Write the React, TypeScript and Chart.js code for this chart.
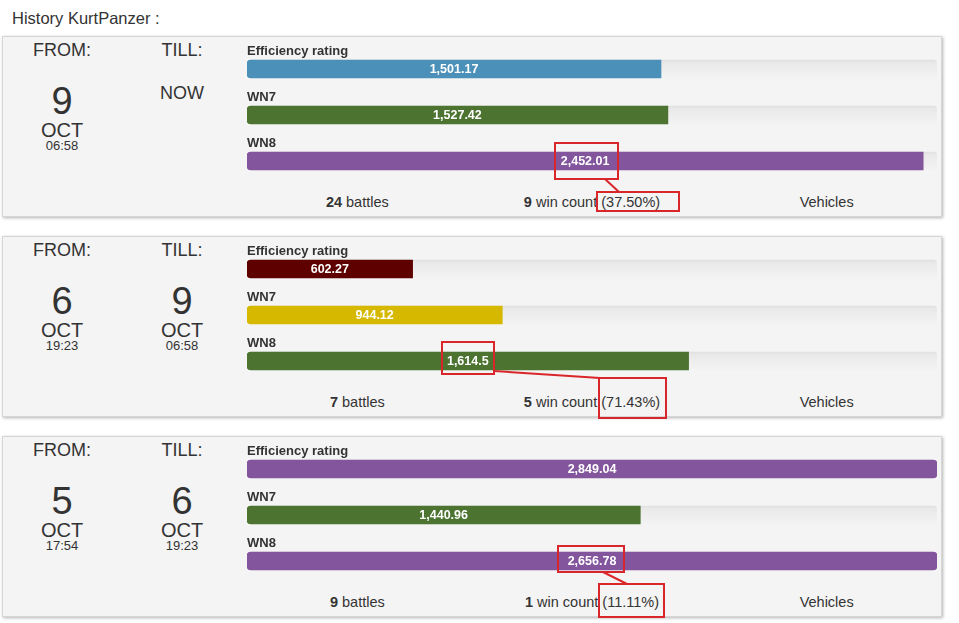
import React, { useEffect, useRef } from 'react';
import { Chart, registerables } from 'chart.js';

Chart.register(...registerables);

// ---------- data ----------
const metricLabels = ['Efficiency rating', 'WN7', 'WN8'];
const efficiencyValues = [1501.17, 602.27, 2849.04];
const wn7Values = [1527.42, 944.12, 1440.96];
const wn8Values = [2452.01, 1614.5, 2656.78];
const scaleMax = 2500;
// the source page fills each bar to a whole percent of scaleMax (rounded down)
const percentStep = scaleMax / 100;

const fromDays = ['9', '6', '5'];
const fromMonths = ['OCT', 'OCT', 'OCT'];
const fromTimes = ['06:58', '19:23', '17:54'];
const tillDays = ['', '9', '6'];
const tillMonths = ['', 'OCT', 'OCT'];
const tillTimes = ['', '06:58', '19:23'];

const battles = [24, 7, 9];
const wins = [9, 5, 1];
const winRates = ['37.50', '71.43', '11.11'];

// ---------- styles ----------
const efficiencyColors = ['#4a90b9', '#5e0000', '#83559c'];
const wn7Colors = ['#4d7331', '#d6b800', '#4d7331'];
const wn8Colors = ['#83559c', '#4d7331', '#83559c'];

const FONT = '"Liberation Sans", Arial, Helvetica, sans-serif';
const PANEL_TOPS = [36, 236, 436];
const RED = '#d9262b';

const fmt = (v: number) =>
  v.toLocaleString('en-US', { minimumFractionDigits: 0, maximumFractionDigits: 2 });

const barLength = (v: number) => Math.min(Math.floor(v / percentStep) * percentStep, scaleMax);

function PanelChart({ idx, top }: { idx: number; top: number }) {
  const ref = useRef<HTMLCanvasElement | null>(null);
  useEffect(() => {
    if (!ref.current) return;
    const values = [efficiencyValues[idx], wn7Values[idx], wn8Values[idx]];
    const colors = [efficiencyColors[idx], wn7Colors[idx], wn8Colors[idx]];
    const labelPlugin = {
      id: 'barLabels',
      afterDatasetsDraw(chart: any) {
        const ctx = chart.ctx;
        const meta = chart.getDatasetMeta(0);
        meta.data.forEach((bar: any, i: number) => {
          ctx.save();
          ctx.textBaseline = 'middle';
          ctx.font = `bold 12.5px ${FONT}`;
          ctx.fillStyle = '#ffffff';
          ctx.textAlign = 'center';
          ctx.fillText(fmt(values[i]), (bar.x + bar.base) / 2, bar.y + 0.5);
          ctx.font = `bold 13px ${FONT}`;
          ctx.fillStyle = '#333333';
          ctx.textAlign = 'left';
          ctx.fillText(metricLabels[i], chart.chartArea.left, bar.y - 18);
          ctx.restore();
        });
      },
    };
    const trackColor = (c: any) => {
      const chart = c.chart;
      const ys = chart.scales && chart.scales.y;
      if (!ys || c.type !== 'data') return '#ececec';
      const yc = ys.getPixelForValue(c.dataIndex);
      if (!Number.isFinite(yc)) return '#ececec';
      const g = chart.ctx.createLinearGradient(0, yc - 9, 0, yc + 9);
      g.addColorStop(0, '#e0e0e0');
      g.addColorStop(0.15, '#e9e9e9');
      g.addColorStop(1, '#f3f3f3');
      return g;
    };
    const chart = new Chart(ref.current, {
      type: 'bar',
      data: {
        labels: metricLabels,
        datasets: [
          {
            data: values.map(barLength),
            backgroundColor: colors,
            barThickness: 18,
            borderSkipped: false,
            grouped: false,
            borderRadius: (c: any) =>
              c.raw >= scaleMax ? 4 : { topLeft: 4, bottomLeft: 4, topRight: 0, bottomRight: 0 },
          } as any,
          {
            data: metricLabels.map(() => scaleMax),
            backgroundColor: trackColor,
            barThickness: 18,
            borderSkipped: false,
            grouped: false,
            borderRadius: 4,
          } as any,
        ],
      },
      options: {
        indexAxis: 'y',
        responsive: false,
        maintainAspectRatio: false,
        animation: false,
        layout: { padding: { top: 5, left: 0, right: 0, bottom: 0 } },
        scales: {
          x: { min: 0, max: scaleMax, display: false },
          y: { display: false },
        },
        plugins: { legend: { display: false }, tooltip: { enabled: false } },
      } as any,
      plugins: [labelPlugin],
    });
    return () => chart.destroy();
  }, [idx]);
  return (
    <canvas
      ref={ref}
      width={690}
      height={143}
      style={{ position: 'absolute', left: 247, top: top + 5, width: 690, height: 143 }}
    />
  );
}

function Txt({ x, y, w, size, children, bold }: any) {
  return (
    <div
      style={{
        position: 'absolute',
        left: x,
        top: y,
        width: w,
        textAlign: 'center',
        fontSize: size,
        lineHeight: `${size}px`,
        fontWeight: bold ? 'bold' : 'normal',
        whiteSpace: 'nowrap',
      }}
    >
      {children}
    </div>
  );
}

function Panel({ idx }: { idx: number }) {
  const t = PANEL_TOPS[idx];
  const hasTill = tillDays[idx] !== '';
  const colW = 704 / 3;
  return (
    <>
      <div
        style={{
          position: 'absolute',
          left: 2,
          top: t,
          width: 940,
          height: 181,
          boxSizing: 'border-box',
          background: '#f4f4f4',
          border: '1px solid #d6d6d6',
          boxShadow: '1px 1px 3px rgba(0,0,0,0.3)',
        }}
      />
      <Txt x={2} y={t + 5} w={120} size={18}>FROM:</Txt>
      <Txt x={122} y={t + 5} w={120} size={18}>TILL:</Txt>
      <Txt x={2} y={t + 46} w={120} size={38}>{fromDays[idx]}</Txt>
      <Txt x={2} y={t + 84} w={120} size={20}>{fromMonths[idx]}</Txt>
      <Txt x={2} y={t + 103} w={120} size={13}>{fromTimes[idx]}</Txt>
      {hasTill ? (
        <>
          <Txt x={122} y={t + 46} w={120} size={38}>{tillDays[idx]}</Txt>
          <Txt x={122} y={t + 84} w={120} size={20}>{tillMonths[idx]}</Txt>
          <Txt x={122} y={t + 103} w={120} size={13}>{tillTimes[idx]}</Txt>
        </>
      ) : (
        <Txt x={122} y={t + 48} w={120} size={18}>NOW</Txt>
      )}
      <PanelChart idx={idx} top={t} />
      <Txt x={240} y={t + 159} w={colW} size={14.5}>
        <b>{battles[idx]}</b> battles
      </Txt>
      <Txt x={240 + colW} y={t + 159} w={colW} size={14.5}>
        <b>{wins[idx]}</b> win count ({winRates[idx]}%)
      </Txt>
      <Txt x={240 + 2 * colW} y={t + 159} w={colW} size={14.5}>
        Vehicles
      </Txt>
    </>
  );
}

export default function App() {
  return (
    <div
      style={{
        position: 'absolute',
        left: 0,
        top: 0,
        width: 959,
        height: 623,
        background: '#ffffff',
        fontFamily: FONT,
        color: '#333333',
        overflow: 'hidden',
      }}
    >
      <div style={{ position: 'absolute', left: 12, top: 10, fontSize: 16.5, lineHeight: '16.5px', whiteSpace: 'nowrap' }}>
        History KurtPanzer :
      </div>
      <Panel idx={0} />
      <Panel idx={1} />
      <Panel idx={2} />
      <svg
        width={959}
        height={623}
        style={{ position: 'absolute', left: 0, top: 0, pointerEvents: 'none' }}
      >
        <g fill="none" stroke={RED} strokeWidth={2}>
          <rect x={555} y={143} width={63} height={36} />
          <rect x={597} y={192} width={82} height={19} />
          <line x1={605} y1={179} x2={619} y2={192} />
          <rect x={442} y={342} width={52} height={32} />
          <rect x={599} y={378} width={67} height={40} />
          <line x1={494} y1={371} x2={600} y2={378} />
          <rect x={558} y={546} width={66} height={26} />
          <rect x={599} y={584} width={65} height={33} />
          <line x1={603} y1={572} x2={627} y2={584} />
        </g>
      </svg>
    </div>
  );
}
